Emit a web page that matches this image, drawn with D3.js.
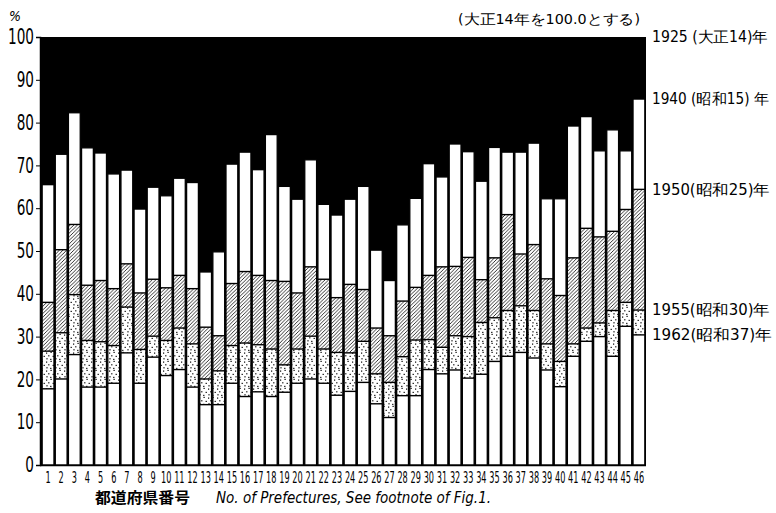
<!DOCTYPE html>
<html><head><meta charset="utf-8">
<script src="https://cdn.jsdelivr.net/npm/d3@7"></script>
<style>
html,body{margin:0;padding:0;background:#fff;}
svg{display:block;}
</style></head>
<body>
<svg id="chart" width="776" height="513"></svg>
<script>
// Prefecture numbers
const prefectures = d3.range(1, 47).map(String);
// Index (1925 = 100) for each census year
const v1940 = [65.5,72.6,82.3,74.1,72.9,68.0,68.9,59.8,64.9,62.9,67.0,66.0,45.1,49.8,70.3,73.1,69.0,77.2,65.1,62.1,71.3,60.9,58.4,62.1,65.1,50.2,43.1,56.1,62.3,70.4,67.3,75.0,73.2,66.3,74.2,73.1,73.1,75.2,62.2,62.2,79.2,81.4,73.4,78.3,73.4,85.5];
const v1950 = [38.0,50.3,56.2,42.0,43.1,41.2,47.0,40.2,43.4,41.4,44.3,41.2,32.2,30.2,42.4,45.2,44.3,43.1,42.9,40.2,46.3,43.4,39.1,42.2,41.0,32.0,30.2,38.3,41.5,44.3,46.3,46.4,48.5,43.3,48.4,58.5,49.3,51.5,43.5,39.6,48.4,55.3,53.3,54.6,59.7,64.4];
const v1955 = [26.6,30.9,39.8,29.1,28.8,27.9,36.9,27.0,30.1,29.1,32.0,28.3,20.1,22.0,27.9,28.5,28.1,27.1,23.4,27.1,30.1,27.1,26.3,26.2,28.9,21.3,19.3,25.3,29.2,29.3,27.5,30.2,30.0,33.3,34.4,36.1,37.2,36.1,28.3,24.2,28.3,32.0,33.2,36.1,38.0,36.2];
const v1962 = [17.8,20.1,25.8,18.2,18.2,19.1,26.2,19.1,25.2,20.9,22.3,18.2,14.1,14.1,19.1,16.0,17.1,16.0,17.0,19.1,20.1,19.1,16.3,17.2,19.3,14.3,11.1,16.2,16.2,22.3,21.3,22.2,20.3,21.2,24.2,25.4,26.3,25.0,22.2,18.3,25.4,28.9,30.0,25.4,32.4,30.4];
const yTicks = [0,10,20,30,40,50,60,70,80,90,100];
const yearLabels = ["1925 (大正14)年","1940 (昭和15) 年","1950(昭和25)年","1955(昭和30)年","1962(昭和37)年"];

const svg = d3.select("#chart");
const NARROW = "'Liberation Sans Narrow','DejaVu Sans Condensed','DejaVu Sans',sans-serif";

const x = d3.scaleBand().domain(prefectures).range([41.5, 645.5]).paddingInner(0.1).paddingOuter(0.05);
const y = d3.scaleLinear().domain([0, 100]).range([465, 37]);

// patterns
const defs = svg.append("defs");
const hatch = defs.append("pattern").attr("id","hatch").attr("patternUnits","userSpaceOnUse")
  .attr("width",3.6).attr("height",3.6);
hatch.append("rect").attr("width",3.6).attr("height",3.6).attr("fill","#fff");
hatch.append("path").attr("d","M-0.9,0.9 L0.9,-0.9 M0,3.6 L3.6,0 M2.7,4.5 L4.5,2.7")
  .attr("stroke","#000").attr("stroke-width",0.8);
const dots = defs.append("pattern").attr("id","dots").attr("patternUnits","userSpaceOnUse")
  .attr("width",9).attr("height",9);
dots.append("rect").attr("width",9).attr("height",9).attr("fill","#fff");
[[1,1.5],[5.5,0.8],[3.2,4.2],[7.6,4.8],[1.4,7.2],[5.2,7.8]].forEach(([cx,cy])=>{
  dots.append("rect").attr("x",cx).attr("y",cy).attr("width",1.2).attr("height",1.2).attr("fill","#000");
});

// 1925 = 100 black ground
svg.append("rect").attr("x", 40).attr("y", y(100)).attr("width", 646 - 40).attr("height", y(0) - y(100)).attr("fill", "#000");

const rows = prefectures.map((p,i)=>({p, a:v1940[i], b:v1950[i], c:v1955[i], d:v1962[i]}));
const g = svg.append("g");
const bars = g.selectAll("g.bar").data(rows).join("g").attr("class","bar");
bars.append("rect").attr("x", d=>x(d.p)).attr("width", x.bandwidth())
  .attr("y", d=>y(d.a)).attr("height", d=>y(0)-y(d.a)).attr("fill","#fff");
bars.append("rect").attr("x", d=>x(d.p)).attr("width", x.bandwidth())
  .attr("y", d=>y(d.b)).attr("height", d=>y(d.c)-y(d.b)).attr("fill","url(#hatch)");
bars.append("rect").attr("x", d=>x(d.p)).attr("width", x.bandwidth())
  .attr("y", d=>y(d.c)).attr("height", d=>y(d.d)-y(d.c)).attr("fill","url(#dots)");
["b","c","d"].forEach(k=>{
  bars.append("line").attr("x1", d=>x(d.p)).attr("x2", d=>x(d.p)+x.bandwidth())
    .attr("y1", d=>y(d[k])).attr("y2", d=>y(d[k])).attr("stroke","#000").attr("stroke-width",1.4);
});
bars.append("rect").attr("x", d=>x(d.p)).attr("width", x.bandwidth())
  .attr("y", d=>y(d.a)).attr("height", d=>y(0)-y(d.a)).attr("fill","none")
  .attr("stroke","#000").attr("stroke-width",1.3);

// axes
const ySX = 0.72;
const yAxis = d3.axisLeft(y).tickValues(yTicks).tickSize(4).tickPadding(2).tickFormat(d3.format("d"));
const ya = svg.append("g").attr("transform","translate(40,0)").call(yAxis);
ya.select(".domain").attr("stroke","#000").attr("stroke-width",1.5);
ya.selectAll("text").attr("font-family",NARROW).attr("font-size",21).attr("fill","#000")
  .attr("x", -6/ySX).attr("transform", `scale(${ySX},1)`);

const xSX = 0.55;
const xAxis = d3.axisBottom(x).tickSize(0).tickPadding(6);
const xa = svg.append("g").attr("transform","translate(0,465)").call(xAxis);
xa.select(".domain").attr("stroke","#000").attr("stroke-width",1.5).attr("d","M40,0.5H646");
xa.selectAll("text").attr("font-family",NARROW).attr("font-size",16.5).attr("fill","#000")
  .attr("transform", `scale(${xSX},1)`);

// texts
svg.append("text").attr("x",9).attr("y",21).attr("font-family",NARROW).attr("font-style","italic")
  .attr("font-size",14).text("%");
svg.append("text").attr("x",458).attr("y",24).attr("font-family",NARROW).attr("font-size",14)
  .attr("textLength",182).attr("lengthAdjust","spacingAndGlyphs").text("(大正14年を100.0とする)");

const labelVals = [100, v1940[45], v1950[45], v1955[45], v1962[45]];
const labelW = [116,117,118,118,120];
svg.selectAll("text.yr").data(yearLabels).join("text").attr("class","yr")
  .attr("x",652).attr("y",(d,i)=>y(labelVals[i])).attr("dy","0.36em")
  .attr("font-family",NARROW).attr("font-size",15)
  .attr("textLength",(d,i)=>labelW[i]).attr("lengthAdjust","spacingAndGlyphs")
  .text(d=>d);

svg.append("text").attr("x",95).attr("y",503).attr("font-family","'Noto Sans CJK JP',sans-serif")
  .attr("font-weight","bold").attr("font-size",15).attr("textLength",95).attr("lengthAdjust","spacingAndGlyphs")
  .text("都道府県番号");
svg.append("text").attr("x",216).attr("y",503).attr("font-family",NARROW).attr("font-style","italic")
  .attr("font-size",16).attr("textLength",275).attr("lengthAdjust","spacingAndGlyphs")
  .text("No. of Prefectures, See  footnote of Fig.1.");
</script>
</body></html>
